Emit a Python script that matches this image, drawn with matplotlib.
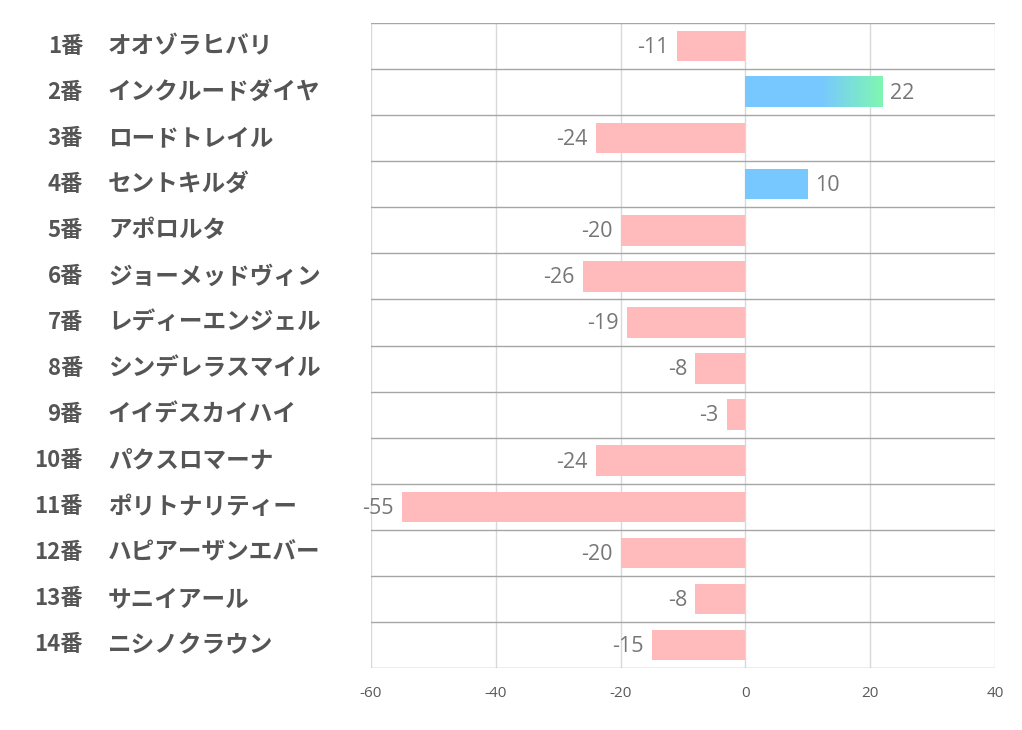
import numpy as np
import matplotlib.pyplot as plt
from matplotlib.colors import LinearSegmentedColormap

plt.rcParams['font.family'] = ['Noto Sans CJK JP', 'DejaVu Sans']
plt.rcParams['axes.unicode_minus'] = False

nums = ['1番', '2番', '3番', '4番', '5番', '6番', '7番', '8番', '9番', '10番',
        '11番', '12番', '13番', '14番']
names = ['オオゾラヒバリ', 'インクルードダイヤ', 'ロードトレイル', 'セントキルダ', 'アポロルタ',
         'ジョーメッドヴィン', 'レディーエンジェル', 'シンデレラスマイル', 'イイデスカイハイ',
         'パクスロマーナ', 'ポリトナリティー', 'ハピアーザンエバー', 'サニイアール', 'ニシノクラウン']
values = [-11, 22, -24, 10, -20, -26, -19, -8, -3, -24, -55, -20, -8, -15]
xticks = [-60, -40, -20, 0, 20, 40]

pink = '#FFBBBC'
blue = '#77C8FF'
green = '#7FF7B2'

fig = plt.figure(figsize=(10.22, 7.3), dpi=100)
ax = fig.add_axes([371 / 1022, 62 / 730, 624 / 1022, 645 / 730])

n = len(values)
y = np.arange(n)
h = 0.66
colors = [pink if v < 0 else blue for v in values]
bars = ax.barh(y, values, height=h, color=colors, zorder=3)

# gradient on the top positive bar
top_pos = max(values)
i = values.index(top_pos)
cmap = LinearSegmentedColormap.from_list('bg', [(0, blue), (0.55, blue), (1, green)])
grad = np.linspace(0, 1, 256).reshape(1, -1)
bars[i].set_visible(False)
ax.imshow(grad, cmap=cmap, aspect='auto', extent=[0, top_pos, i + h / 2, i - h / 2], zorder=3)

for yi, v in zip(y, values):
    if v < 0:
        ax.annotate(str(v), (v, yi), xytext=(-6, -1), textcoords='offset points',
                    ha='right', va='center', fontsize=15.5, color='#767676',
                    family=['Open Sans', 'DejaVu Sans'])
    else:
        ax.annotate(str(v), (v, yi), xytext=(5, -1), textcoords='offset points',
                    ha='left', va='center', fontsize=15.5, color='#767676',
                    family=['Open Sans', 'DejaVu Sans'])

ax.set_xlim(-60, 40)
ax.set_ylim(n - 0.5, -0.5)
ax.set_xticks(xticks)
ax.set_yticks([])
ax.tick_params(axis='x', length=0, pad=13, labelsize=11, labelcolor='#595959')
for lab in ax.get_xticklabels():
    lab.set_family(['Open Sans', 'DejaVu Sans'])

for x in xticks:
    ax.axvline(x, color='#D9D9D9', lw=1, zorder=1)
for b in np.arange(n + 1) - 0.5:
    ax.axhline(b, color='#A6A6A6', lw=1, zorder=2)
for s in ax.spines.values():
    s.set_visible(False)

for yi, num, name in zip(y, nums, names):
    yd = ax.transData.transform((0, yi))[1]
    yf = yd / fig.bbox.height
    fig.text(83 / 1022, yf, num, ha='right', va='center', fontsize=16,
             fontweight='bold', color='#555555')
    fig.text(108 / 1022, yf, name, ha='left', va='center', fontsize=17,
             fontweight='bold', color='#555555')

fig.savefig('out.png', dpi=100)
